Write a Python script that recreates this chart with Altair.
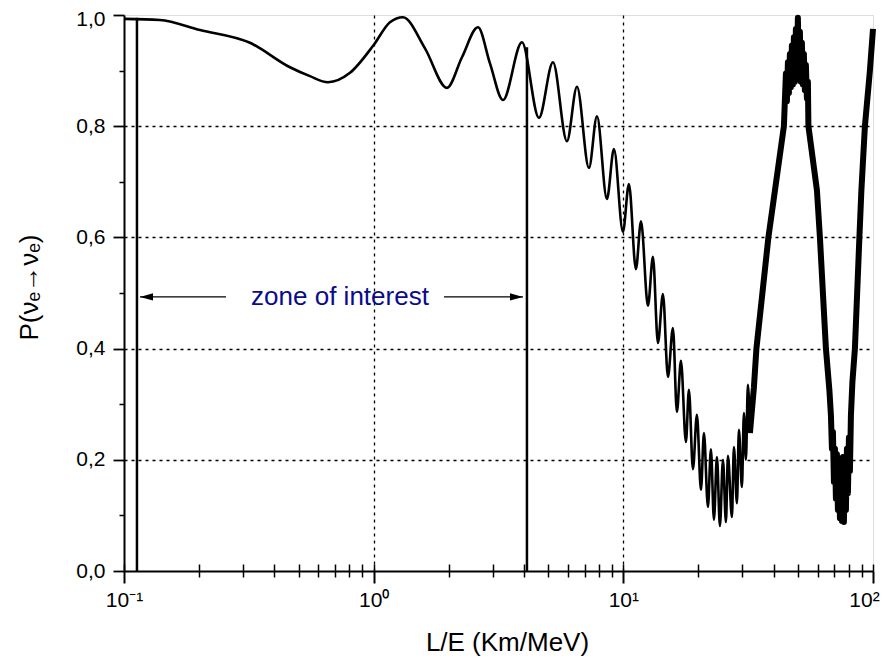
import altair as alt
import pandas as pd

FONT = "Liberation Sans"

# ---- data ----
# slowly / visibly oscillating part of P(nu_e -> nu_e) versus L/E (km/MeV)
thin_le = [0.1, 0.139, 0.2016, 0.3196, 0.4622, 0.5556, 0.6561, 0.8037, 1.0, 1.162,
           1.310, 1.605, 1.966, 2.258, 2.617, 2.923, 3.295, 3.926, 4.592, 5.226,
           5.944, 6.521, 7.283, 7.842, 8.596, 9.170, 9.963, 10.53, 11.23, 11.77,
           12.55, 13.14, 13.76, 14.41, 15.09, 15.80, 16.39, 17.01, 17.81, 18.31,
           19.00, 19.71, 20.46, 21.03, 21.82, 22.43, 23.06, 23.71, 24.37, 25.06,
           25.76, 26.24, 27.22, 27.73, 28.51, 29.04, 29.85, 30.41, 30.97, 31.55,
           32.14]
thin_p = [0.993, 0.991, 0.973, 0.950, 0.906, 0.890, 0.879, 0.896, 0.946, 0.987,
          0.996, 0.940, 0.869, 0.924, 0.978, 0.913, 0.847, 0.951, 0.815, 0.915,
          0.773, 0.871, 0.725, 0.818, 0.669, 0.759, 0.610, 0.696, 0.543, 0.629,
          0.477, 0.565, 0.410, 0.498, 0.349, 0.437, 0.286, 0.378, 0.232, 0.326,
          0.183, 0.281, 0.146, 0.248, 0.115, 0.219, 0.092, 0.205, 0.081, 0.200,
          0.088, 0.207, 0.097, 0.223, 0.122, 0.254, 0.151, 0.284, 0.200, 0.335,
          0.248]

# fast-oscillation band (drawn thick)
thick_le = [32.14, 33.34, 34.12, 38.11, 40.64, 43.97,
            44.79, 45.20, 45.62, 46.04, 46.47, 46.90, 47.33, 47.77, 48.21, 48.66,
            49.11, 49.56, 50.02, 50.48, 50.95, 51.42, 51.90, 52.38, 52.86, 53.35,
            53.86, 54.36, 54.86,
            55.12, 59.62, 61.29, 64.78, 66.91,
            67.84, 68.47, 69.10, 69.74, 70.39, 71.04, 71.70, 72.36, 73.03, 73.71,
            74.39, 75.08, 75.77, 76.47, 77.19, 77.90, 78.62, 79.35, 80.08, 80.83,
            81.58, 82.71, 84.63, 88.21, 89.85, 92.81, 97.19, 100.0]
thick_p = [0.248, 0.33, 0.40, 0.60, 0.69, 0.80,
           0.895, 0.845, 0.915, 0.86, 0.93, 0.87, 0.945, 0.875, 0.96, 0.88,
           0.975, 0.885, 0.995, 0.885, 0.97, 0.88, 0.95, 0.875, 0.93, 0.865,
           0.91, 0.85, 0.88,
           0.80, 0.685, 0.60, 0.40, 0.324,
           0.28, 0.22, 0.25, 0.16, 0.22, 0.13, 0.21, 0.11, 0.20, 0.095,
           0.20, 0.09, 0.205, 0.088, 0.20, 0.11, 0.22, 0.14, 0.24, 0.18,
           0.28, 0.34, 0.40, 0.60, 0.685, 0.80, 0.90, 0.975]

zone_le = [0.1127, 4.111]
zone_top = [0.995, 0.942]

arrow_y = 0.493
arrow_start = [0.1159, 1.912]
arrow_end = [0.2562, 3.963]
left_tip = [0.1159]
right_tip = [3.963]

label_le = [0.733]
label_text = ["zone of interest"]

x_major = [0.1, 1, 10, 100]
x_minor = [0.2, 0.3, 0.4, 0.5, 0.6, 0.7, 0.8, 0.9,
           2, 3, 4, 5, 6, 7, 8, 9,
           20, 30, 40, 50, 60, 70, 80, 90]
y_major = [0.0, 0.2, 0.4, 0.6, 0.8, 1.0]
y_minor = [0.1, 0.3, 0.5, 0.7, 0.9]
y_grid = [0.2, 0.4, 0.6, 0.8]

# ---- tables ----
thin_df = pd.DataFrame({"le": thin_le, "p": thin_p})
thick_df = pd.DataFrame({"le": thick_le, "p": thick_p})
zone_df = pd.DataFrame({"le": zone_le, "top": zone_top, "bottom": [0.0] * len(zone_le)})
arrow_df = pd.DataFrame({"a": arrow_start, "b": arrow_end, "y": [arrow_y] * len(arrow_start)})
ltip_df = pd.DataFrame({"le": left_tip, "y": [arrow_y]})
rtip_df = pd.DataFrame({"le": right_tip, "y": [arrow_y]})
label_df = pd.DataFrame({"le": label_le, "y": [arrow_y], "t": label_text})

x_scale = alt.Scale(type="log", domain=[0.1, 100], nice=False)
y_scale = alt.Scale(domain=[0, 1], nice=False, zero=False)

x_all = sorted(x_major + x_minor)
X_MAJ = "datum.value == 0.1 || datum.value == 1 || datum.value == 10 || datum.value == 100"

x_main_axis = alt.Axis(
    values=x_all,
    labelExpr="datum.value == 0.1 ? '10\u207b\u00b9' : datum.value == 1 ? '10\u2070' : "
              "datum.value == 10 ? '10\u00b9' : datum.value == 100 ? '10\u00b2' : ''",
    tickSize={"condition": {"test": X_MAJ, "value": 12}, "value": 6},
    tickWidth={"condition": {"test": X_MAJ, "value": 2}, "value": 1.5},
    tickColor="black",
    grid=True,
    gridOpacity={"condition": {"test": "datum.value == 1 || datum.value == 10", "value": 1}, "value": 0},
    gridDash=[3, 4], gridColor="black", gridWidth=1.3,
    domainColor="black", domainWidth=2,
    labelFont=FONT, labelFontSize=21, labelColor="black", labelPadding=6,
    labelOffset={"condition": {"test": "datum.value == 100", "value": -9}, "value": 0},
    labelFlush=False, labelOverlap=False,
    title="L/E (Km/MeV)", titleFont=FONT, titleFontSize=26, titleFontWeight="normal",
    titleColor="black", titleX=383, titleY=79, titleBaseline="alphabetic", titleAlign="center",
)

x_inner_axis = alt.Axis(
    orient="bottom", offset=-7, values=x_all, tickSize=7, tickWidth=1.5, tickColor="black",
    domain=False, labels=False, grid=False, title=None,
)

y_main_axis = alt.Axis(
    orient="left",
    values=y_major,
    labelExpr="replace(format(datum.value, '.1f'), '.', ',')",
    labelOffset={"condition": {"test": "datum.value == 1", "value": 4}, "value": 0},
    tickSize=11, tickWidth=1.8, tickColor="black",
    grid=False,
    domainColor="black", domainWidth=2,
    labelFont=FONT, labelFontSize=21, labelColor="black", labelPadding=8,
    labelFlush=False, labelOverlap=False,
    title="P(\u03bd\u2091\u2192\u03bd\u2091)", titleFont=FONT, titleFontSize=26,
    titleFontWeight="normal", titleColor="black",
    titleAngle=270, titleAlign="center", titleBaseline="middle", titleX=-95, titleY=272,
)

y_minor_axis = alt.Axis(
    orient="left", values=y_minor, tickSize=5, tickWidth=1.5, tickColor="black",
    domain=False, labels=False, grid=False, title=None,
)

y_grid_axis = alt.Axis(
    orient="left", values=y_grid, ticks=False, domain=False, labels=False, title=None,
    grid=True, gridDash=[3, 4], gridColor="black", gridWidth=1.3,
)

thin = alt.Chart(thin_df).mark_line(color="black", strokeWidth=2.6, interpolate="monotone").encode(
    x=alt.X("le:Q", scale=x_scale, axis=x_main_axis),
    y=alt.Y("p:Q", scale=y_scale, axis=y_main_axis),
)

thick = alt.Chart(thick_df).mark_line(color="black", strokeWidth=6, strokeJoin="round").encode(
    x=alt.X("le:Q", scale=x_scale, axis=None),
    y=alt.Y("p:Q", scale=y_scale, axis=y_minor_axis),
)

zones = alt.Chart(zone_df).mark_rule(color="black", strokeWidth=2.5).encode(
    x=alt.X("le:Q", scale=x_scale, axis=x_inner_axis),
    y=alt.Y("bottom:Q", scale=y_scale, axis=y_grid_axis),
    y2="top:Q",
)

shafts = alt.Chart(arrow_df).mark_rule(color="black", strokeWidth=1.3).encode(
    x=alt.X("a:Q", scale=x_scale, axis=None),
    x2="b:Q",
    y=alt.Y("y:Q", scale=y_scale, axis=None),
)

lhead = alt.Chart(ltip_df).mark_point(
    shape="M0,0L2,-0.55L2,0.55Z", filled=True, size=169, color="black", opacity=1, strokeWidth=0
).encode(
    x=alt.X("le:Q", scale=x_scale, axis=None),
    y=alt.Y("y:Q", scale=y_scale, axis=None),
)

rhead = alt.Chart(rtip_df).mark_point(
    shape="M0,0L-2,-0.55L-2,0.55Z", filled=True, size=169, color="black", opacity=1, strokeWidth=0
).encode(
    x=alt.X("le:Q", scale=x_scale, axis=None),
    y=alt.Y("y:Q", scale=y_scale, axis=None),
)

label = alt.Chart(label_df).mark_text(
    font=FONT, fontSize=26, color="#0a0a8c", align="center", baseline="middle"
).encode(
    x=alt.X("le:Q", scale=x_scale, axis=None),
    y=alt.Y("y:Q", scale=y_scale, axis=None),
    text="t:N",
)

chart = alt.layer(thin, thick, zones, shafts, lhead, rhead, label).resolve_axis(
    x="independent", y="independent"
).properties(
    width=749,
    height=556,
    padding={"left": 116, "top": 7, "right": 7, "bottom": 85},
    autosize=alt.AutoSizeParams(type="none"),
).configure_view(
    stroke="#777777", strokeWidth=1
).configure(background="white")

chart.save("out.html", embed_options={"renderer": "svg", "actions": False})
